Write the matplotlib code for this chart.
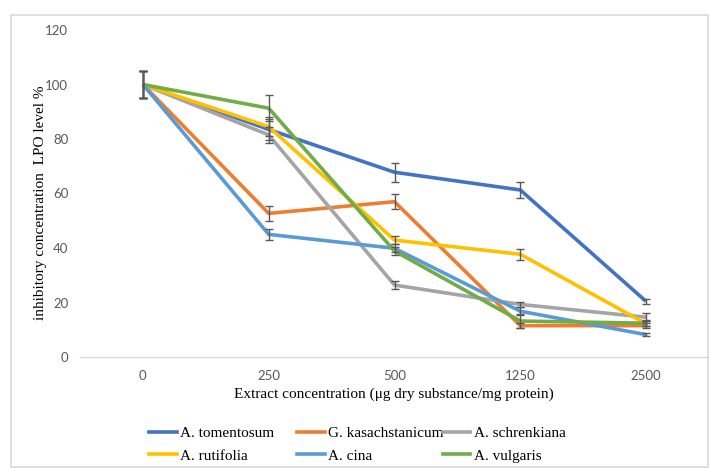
import matplotlib
matplotlib.use("Agg")
import matplotlib.pyplot as plt
from matplotlib.patches import Rectangle
from matplotlib.lines import Line2D

categories = ["0", "250", "500", "1250", "2500"]

tomentosum = [100, 83.5, 67.8, 61.3, 20.4]
kasachstanicum = [100, 52.7, 57.0, 11.5, 11.5]
schrenkiana = [100, 81.5, 26.4, 19.3, 14.6]
rutifolia = [100, 84.5, 42.9, 37.7, 12.2]
cina = [100, 45.0, 39.9, 16.8, 8.2]
vulgaris = [100, 91.3, 38.9, 13.2, 12.4]

err_tomentosum = [5, 4.0, 3.4, 3.0, 1.0]
err_kasachstanicum = [5, 2.7, 2.7, 1.0, 1.0]
err_schrenkiana = [5, 3.0, 1.4, 1.0, 1.5]
err_rutifolia = [5, 3.5, 1.6, 2.0, 1.0]
err_cina = [5, 2.1, 1.5, 1.5, 0.5]
err_vulgaris = [5, 4.8, 1.5, 2.5, 1.0]

names = ["A. tomentosum", "G. kasachstanicum", "A. schrenkiana",
         "A. rutifolia", "A. cina", "A. vulgaris"]
series = [tomentosum, kasachstanicum, schrenkiana, rutifolia, cina, vulgaris]
errors = [err_tomentosum, err_kasachstanicum, err_schrenkiana,
          err_rutifolia, err_cina, err_vulgaris]
colors = ["#4472C4", "#ED7D31", "#A5A5A5", "#FFC000", "#5B9BD5", "#70AD47"]

W, H = 710, 468
fig = plt.figure(figsize=(W / 100, H / 100), dpi=100)

# chart-area border
fig.patches.append(Rectangle((11 / W, 0.002), (708 - 11) / W, 1 - 15 / H - 0.002,
                             transform=fig.transFigure, fill=False,
                             edgecolor="#D9D9D9", lw=1.2))

ax = fig.add_axes([80 / W, 1 - 357 / H, (709 - 80) / W, (357 - 30) / H])
x = list(range(len(categories)))
for s, c in zip(series, colors):
    ax.plot(x, s, color=c, lw=2.6, solid_capstyle="butt", zorder=3)
for s, e in zip(series, errors):
    ax.errorbar(x, s, yerr=e, fmt="none", ecolor="#595959", elinewidth=1.0,
                capsize=3, capthick=1.0, zorder=4)

ax.set_xlim(-0.5, len(categories) - 0.5)
ax.set_ylim(0, 120)
ax.set_yticks(range(0, 121, 20))
ax.set_xticks(x)
ax.set_xticklabels(categories)
for sp in ["top", "right", "left"]:
    ax.spines[sp].set_visible(False)
ax.spines["bottom"].set_color("#D9D9D9")
ax.spines["bottom"].set_linewidth(1.0)
ax.tick_params(axis="both", length=0, labelsize=9.5, labelcolor="#595959")
ax.tick_params(axis="y", pad=8.5)
ax.tick_params(axis="x", pad=9)
for lab in ax.get_xticklabels() + ax.get_yticklabels():
    lab.set_fontfamily("Lato")

fig.text(41 / W, 1 - 203 / H, "inhibitory concentration  LPO level %",
         rotation=90, ha="center", va="center", fontsize=11,
         family="Liberation Serif", color="#000000")
fig.text(394 / W, 1 - 394 / H, "Extract concentration (μg dry substance/mg protein)",
         ha="center", va="center", fontsize=11, family="Liberation Serif",
         color="#000000")

# legend: three columns, filled row-wise as in the reference
col_x = [149, 297, 443]
for j in range(3):
    idx = [j, j + 3]
    handles = [Line2D([0], [0], color=colors[i], lw=2.6) for i in idx]
    leg = fig.legend(handles, [names[i] for i in idx], loc="center left",
                     bbox_to_anchor=(col_x[j] / W, 1 - 444.5 / H),
                     frameon=False, borderpad=0, borderaxespad=0,
                     handlelength=1.8, handletextpad=0.2, labelspacing=0.6,
                     prop={"family": "Liberation Serif", "size": 11})

fig.savefig("out.png", dpi=100)
